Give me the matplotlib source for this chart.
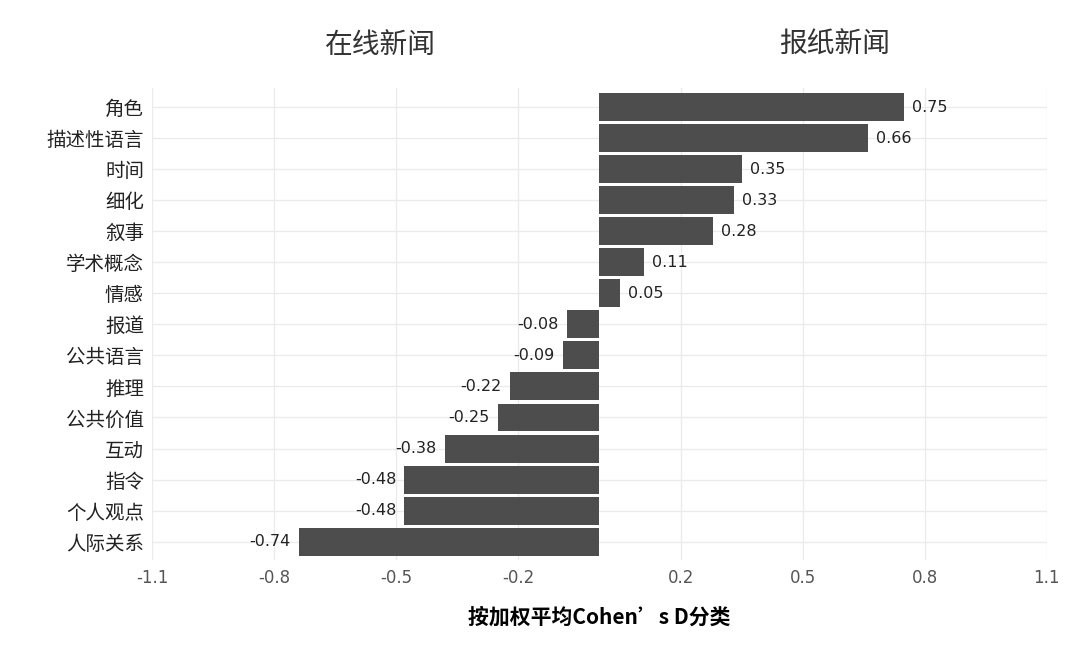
import matplotlib
matplotlib.use("Agg")
import matplotlib.pyplot as plt

plt.rcParams['font.family'] = ['Noto Sans CJK SC', 'DejaVu Sans']

categories = ["角色", "描述性语言", "时间", "细化", "叙事", "学术概念", "情感", "报道",
              "公共语言", "推理", "公共价值", "互动", "指令", "个人观点", "人际关系"]
values = [0.75, 0.66, 0.35, 0.33, 0.28, 0.11, 0.05, -0.08, -0.09, -0.22, -0.25, -0.38, -0.48, -0.48, -0.74]
ticks = [-1.1, -0.8, -0.5, -0.2, 0.2, 0.5, 0.8, 1.1]

fig = plt.figure(figsize=(10.8, 6.5), dpi=100)
ax = fig.add_axes([0.141, 0.138, 0.828, 0.726])
n = len(categories)
ys = list(range(n - 1, -1, -1))
ax.barh(ys, values, height=0.9, color="#4d4d4d", zorder=3)
for y, v in zip(ys, values):
    off = 0.02
    ax.text(v + off if v >= 0 else v - off, y, f"{v:.2f}", va="center",
            ha="left" if v >= 0 else "right", fontsize=11.5, color="#222222",
            family="DejaVu Sans", zorder=4)
ax.set_xlim(-1.1, 1.1)
ax.set_ylim(-0.6, n - 0.4)
ax.set_yticks(ys)
ax.set_yticklabels(categories, fontsize=14, color="#222222")
ax.set_xticks(ticks)
ax.set_xticklabels([str(t) for t in ticks], fontsize=12, color="#555555", family="DejaVu Sans")
ax.grid(True, color="#ebebeb", linewidth=1, zorder=0)
ax.set_axisbelow(True)
for s in ax.spines.values():
    s.set_visible(False)
ax.tick_params(length=0, pad=6)
ax.set_xlabel("按加权平均Cohen’s D分类", fontsize=15, fontweight="bold", labelpad=14)
fig.text(380/1080, 1-45/650, "在线新闻", fontsize=20, ha="center", va="center", color="#333333")
fig.text(835/1080, 1-45/650, "报纸新闻", fontsize=20, ha="center", va="center", color="#333333")
fig.savefig("out.png", dpi=100, facecolor="white")
